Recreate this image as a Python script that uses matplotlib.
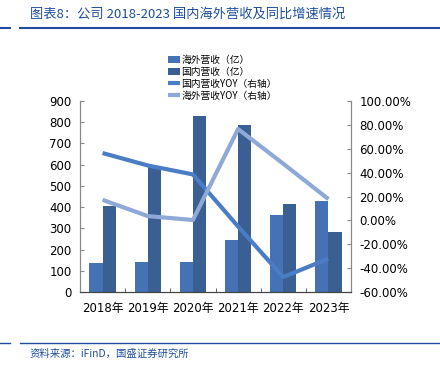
import numpy as np
import matplotlib
matplotlib.use("Agg")
import matplotlib.pyplot as plt
from matplotlib.ticker import FuncFormatter

plt.rcParams['font.family'] = ['DejaVu Sans', 'Noto Sans CJK SC']

years = ["2018年", "2019年", "2020年", "2021年", "2022年", "2023年"]
overseas_rev = [135, 140, 140, 245, 362, 431]
domestic_rev = [407, 593, 828, 786, 415, 285]
domestic_yoy = [56.4, 46.0, 38.5, -5.1, -47.5, -32.0]
overseas_yoy = [17.2, 3.6, 0.3, 76.5, 47.5, 17.8]

c_over = "#4472B4"
c_dom = "#3A5F93"
c_dom_line = "#4A7DC6"
c_over_line = "#8EA9D8"
c_title = "#1F4E9C"
cjk = ['Noto Sans CJK SC', 'DejaVu Sans']

fig = plt.figure(figsize=(4.4, 3.68), dpi=100)
ax = fig.add_axes([80 / 440, 1 - 292 / 368, 271 / 440, 191 / 368])
ax2 = ax.twinx()

x = np.arange(len(years))
w = 0.29
b1 = ax.bar(x - w / 2, overseas_rev, w, color=c_over, label="海外营收（亿）", zorder=2)
b2 = ax.bar(x + w / 2, domestic_rev, w, color=c_dom, label="国内营收（亿）", zorder=2)
l1, = ax2.plot(x, domestic_yoy, color=c_dom_line, lw=3, label="国内营收YOY（右轴）", solid_capstyle="butt")
l2, = ax2.plot(x, overseas_yoy, color=c_over_line, lw=3, label="海外营收YOY（右轴）", solid_capstyle="butt")

ax.set_xlim(-0.5, 5.5)
ax.set_ylim(0, 900)
ax.set_yticks(range(0, 901, 100))
ax2.set_ylim(-60, 100)
ax2.set_yticks(range(-60, 101, 20))
ax2.yaxis.set_major_formatter(FuncFormatter(lambda v, p: f"{v:.2f}%"))

ax.set_xticks(x)
ax.set_xticklabels(years)
ax.set_xticks(np.arange(-0.5, 6, 1), minor=True)
ax.tick_params(axis="x", which="major", length=0, pad=7, labelsize=8.5)
ax.tick_params(axis="x", which="minor", length=3, direction="in", color="#444444")
ax.tick_params(axis="y", length=3, direction="in", labelsize=8.5, color="#888888", pad=6)
ax2.tick_params(axis="y", length=3, direction="in", labelsize=8.5, color="#888888", pad=6)

for a in (ax, ax2):
    a.spines["top"].set_visible(False)
    a.spines["left"].set_color("#888888")
    a.spines["right"].set_color("#888888")
    a.spines["bottom"].set_color("#444444")

fig.legend(handles=[b1, b2, l1, l2], loc="upper left", bbox_to_anchor=(168 / 440, 1 - 55 / 368),
           frameon=False, prop={"family": cjk, "size": 7}, handlelength=1.2, handletextpad=0.2,
           labelspacing=0.2, borderpad=0, borderaxespad=0)

fig.text(30 / 440, 1 - 14 / 368, "图表8：公司 2018-2023 国内海外营收及同比增速情况",
         color=c_title, fontsize=9.5, style="italic", va="center", family=cjk)
fig.add_artist(plt.Line2D([0, 10 / 440], [1 - 28 / 368] * 2, color=c_title, lw=1.5))
fig.add_artist(plt.Line2D([20 / 440, 1], [1 - 28 / 368] * 2, color=c_title, lw=1.5))
fig.add_artist(plt.Line2D([0, 10 / 440], [1 - 343 / 368] * 2, color=c_title, lw=1))
fig.add_artist(plt.Line2D([20 / 440, 1], [1 - 343 / 368] * 2, color=c_title, lw=1))
fig.text(30 / 440, 1 - 354 / 368, "资料来源：iFinD，国盛证券研究所",
         color=c_title, fontsize=7.5, style="italic", va="center", family=cjk)

fig.savefig("out.png", dpi=100)
